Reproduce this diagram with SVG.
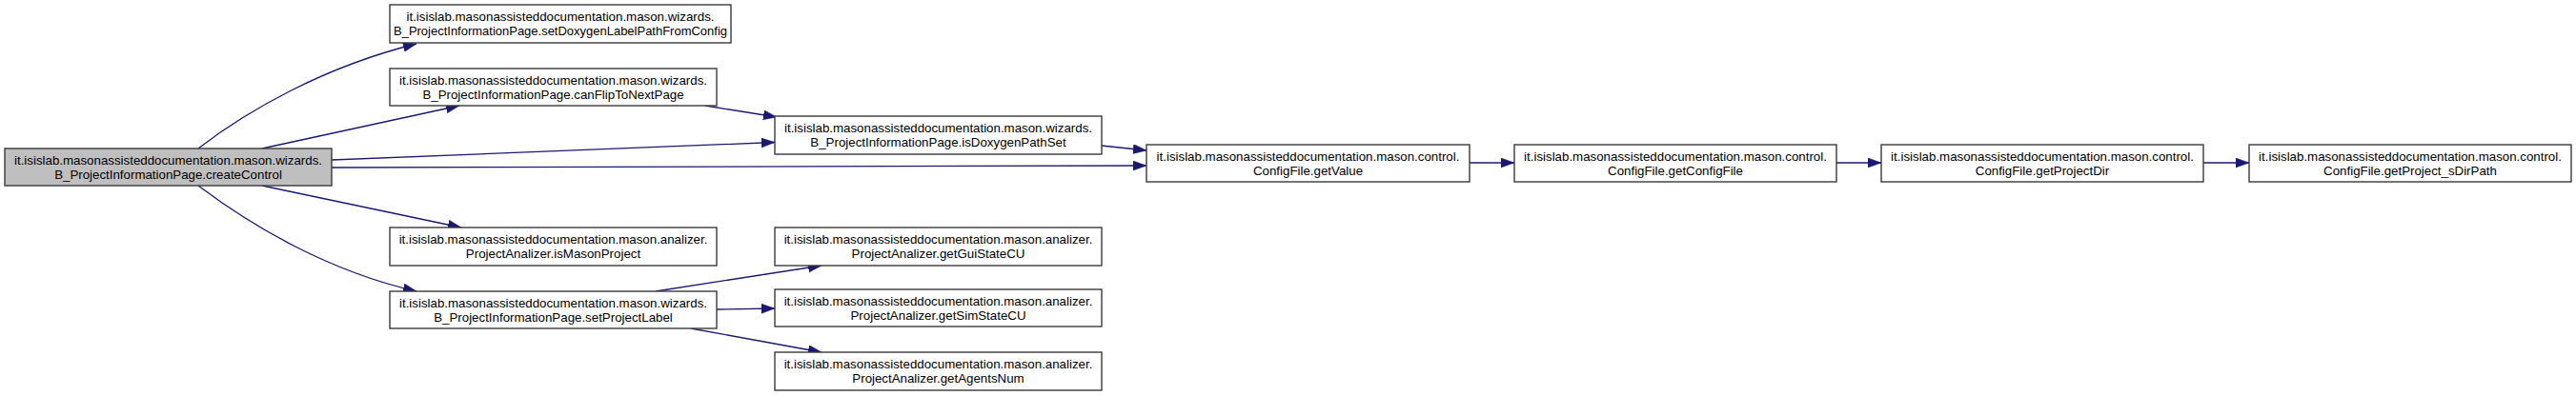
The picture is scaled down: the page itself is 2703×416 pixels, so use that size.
<svg xmlns="http://www.w3.org/2000/svg" width="2703" height="416" viewBox="0 0 2703 416">
<style>
.box{fill:#ffffff;stroke:#3a3a3a;stroke-width:1.4}
.root{fill:#bfbfbf;stroke:#3a3a3a;stroke-width:1.4}
text{font-family:"Liberation Sans",Arial,sans-serif;font-size:13.3px;fill:#000;text-anchor:middle}
.e{fill:none;stroke:#191970;stroke-width:1.3;marker-end:url(#arr)}
</style>
<defs>
<marker id="arr" markerUnits="userSpaceOnUse" markerWidth="15" markerHeight="11" refX="14" refY="5" orient="auto">
<path d="M0,0 L14,5 L0,10 z" fill="#191970" stroke="#191970" stroke-width="0.5"/>
</marker>
</defs>
<rect width="2703" height="416" fill="#ffffff"/>
<g id="connectors">
<path class="e" d="M208,156 C260,116 340,70 437,46"/>
<path class="e" d="M275,156 L482,111"/>
<path class="e" d="M740,111 L815,123"/>
<path class="e" d="M348,168 L813,149.5"/>
<path class="e" d="M348,176 L1203,174"/>
<path class="e" d="M1156,153 L1203,158"/>
<path class="e" d="M1542,171 L1589,171"/>
<path class="e" d="M1927,171 L1974,171"/>
<path class="e" d="M2312,171 L2360,171"/>
<path class="e" d="M275,195 L484,239"/>
<path class="e" d="M208,195 C265,238 345,285 437,306"/>
<path class="e" d="M688,306 L862,279"/>
<path class="e" d="M752,325 L813,324"/>
<path class="e" d="M725,345 L862,370"/>
</g>
<g id="root">
<rect class="root" x="5" y="156" width="343" height="39"/>
<text x="176.5" y="172.5">it.isislab.masonassisteddocumentation.mason.wizards.</text>
<text x="176.5" y="187.5">B_ProjectInformationPage.createControl</text>
</g>
<g id="setDoxygenLabelPathFromConfig">
<rect class="box" x="409" y="5" width="358" height="40"/>
<text x="588" y="21.5">it.isislab.masonassisteddocumentation.mason.wizards.</text>
<text x="588" y="36.5" textLength="350" lengthAdjust="spacingAndGlyphs">B_ProjectInformationPage.setDoxygenLabelPathFromConfig</text>
</g>
<g id="canFlipToNextPage">
<rect class="box" x="409" y="72" width="343" height="39"/>
<text x="580.5" y="88.5">it.isislab.masonassisteddocumentation.mason.wizards.</text>
<text x="580.5" y="103.5">B_ProjectInformationPage.canFlipToNextPage</text>
</g>
<g id="isMasonProject">
<rect class="box" x="409" y="239" width="343" height="40"/>
<text x="580.5" y="255.5">it.isislab.masonassisteddocumentation.mason.analizer.</text>
<text x="580.5" y="270.5">ProjectAnalizer.isMasonProject</text>
</g>
<g id="setProjectLabel">
<rect class="box" x="409" y="306" width="343" height="39"/>
<text x="580.5" y="322.5">it.isislab.masonassisteddocumentation.mason.wizards.</text>
<text x="580.5" y="337.5">B_ProjectInformationPage.setProjectLabel</text>
</g>
<g id="isDoxygenPathSet">
<rect class="box" x="813" y="122" width="343" height="40"/>
<text x="984.5" y="138.5">it.isislab.masonassisteddocumentation.mason.wizards.</text>
<text x="984.5" y="153.5">B_ProjectInformationPage.isDoxygenPathSet</text>
</g>
<g id="getGuiStateCU">
<rect class="box" x="813" y="239" width="343" height="40"/>
<text x="984.5" y="255.5">it.isislab.masonassisteddocumentation.mason.analizer.</text>
<text x="984.5" y="270.5">ProjectAnalizer.getGuiStateCU</text>
</g>
<g id="getSimStateCU">
<rect class="box" x="813" y="304" width="343" height="39"/>
<text x="984.5" y="320.5">it.isislab.masonassisteddocumentation.mason.analizer.</text>
<text x="984.5" y="335.5">ProjectAnalizer.getSimStateCU</text>
</g>
<g id="getAgentsNum">
<rect class="box" x="813" y="370" width="343" height="40"/>
<text x="984.5" y="386.5">it.isislab.masonassisteddocumentation.mason.analizer.</text>
<text x="984.5" y="401.5">ProjectAnalizer.getAgentsNum</text>
</g>
<g id="getValue">
<rect class="box" x="1203" y="152" width="339" height="39"/>
<text x="1372.5" y="168.5">it.isislab.masonassisteddocumentation.mason.control.</text>
<text x="1372.5" y="183.5">ConfigFile.getValue</text>
</g>
<g id="getConfigFile">
<rect class="box" x="1589" y="152" width="338" height="39"/>
<text x="1758" y="168.5">it.isislab.masonassisteddocumentation.mason.control.</text>
<text x="1758" y="183.5">ConfigFile.getConfigFile</text>
</g>
<g id="getProjectDir">
<rect class="box" x="1974" y="152" width="338" height="39"/>
<text x="2143" y="168.5">it.isislab.masonassisteddocumentation.mason.control.</text>
<text x="2143" y="183.5">ConfigFile.getProjectDir</text>
</g>
<g id="getProject_sDirPath">
<rect class="box" x="2360" y="152" width="338" height="39"/>
<text x="2529" y="168.5">it.isislab.masonassisteddocumentation.mason.control.</text>
<text x="2529" y="183.5">ConfigFile.getProject_sDirPath</text>
</g>
</svg>
